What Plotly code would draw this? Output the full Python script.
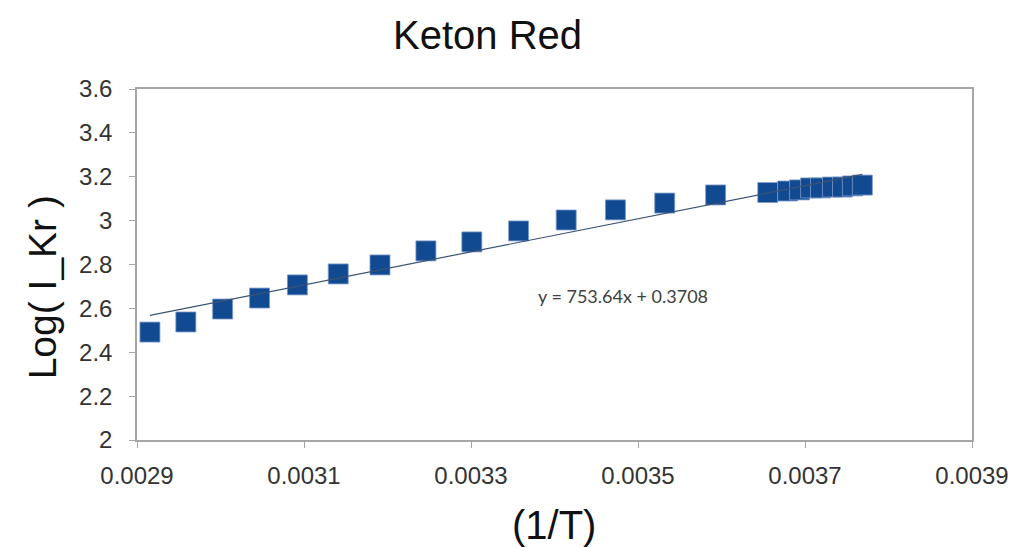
import plotly.graph_objects as go

# Data
inv_T = [0.0029155, 0.0029585, 0.0030026, 0.0030468, 0.0030921, 0.0031410,
         0.0031910, 0.0032460, 0.0033010, 0.0033570, 0.0034140, 0.0034730,
         0.0035320, 0.0035930,
         0.0036554, 0.0036792, 0.0036935, 0.0037067, 0.0037186, 0.0037329,
         0.0037449, 0.0037568, 0.0037687]
log_IKr = [2.492, 2.538, 2.597, 2.647, 2.707, 2.757,
           2.798, 2.862, 2.903, 2.953, 3.003, 3.049,
           3.080, 3.117,
           3.128, 3.135, 3.140, 3.149, 3.149, 3.153,
           3.153, 3.158, 3.162]

# Linear trendline coefficients shown on the chart
trend_slope = 753.64
trend_intercept = 0.3708
trend_x = [min(inv_T), max(inv_T)]
trend_y = [trend_slope * v + trend_intercept for v in trend_x]

x_tickvals = [0.0029, 0.0031, 0.0033, 0.0035, 0.0037, 0.0039]
x_ticktext = ["0.0029", "0.0031", "0.0033", "0.0035", "0.0037", "0.0039"]
y_tickvals = [2, 2.2, 2.4, 2.6, 2.8, 3, 3.2, 3.4, 3.6]
y_ticktext = ["2", "2.2", "2.4", "2.6", "2.8", "3", "3.2", "3.4", "3.6"]

title_text = "Keton Red"
x_title = "(1/T)"
y_title = "Log( I_Kr )"
equation_text = "y = 753.64x + 0.3708"

FONT = "Liberation Sans, Arial, sans-serif"
AXIS_GRAY = "#A6A6A6"

fig = go.Figure()

fig.add_trace(go.Scatter(
    x=inv_T, y=log_IKr, mode="markers",
    marker=dict(symbol="square", size=20, color="#124A92",
                line=dict(color="#7D9CCB", width=0.8)),
    showlegend=False, hoverinfo="x+y",
))

fig.add_trace(go.Scatter(
    x=trend_x, y=trend_y, mode="lines",
    line=dict(color="#3A5373", width=1.2),
    showlegend=False, hoverinfo="skip",
))

fig.update_layout(
    width=1021, height=547,
    margin=dict(l=137, r=46, t=89, b=107),
    paper_bgcolor="white", plot_bgcolor="white",
    font=dict(family=FONT, color="#262626"),
    annotations=[
        dict(text=title_text, x=(489 - 137) / 838, y=1 + (89 - 35) / 351, xref="paper", yref="paper",
             showarrow=False, font=dict(size=40, color="#111111", family=FONT),
             xanchor="center", yanchor="middle"),
        dict(text=x_title, x=(555 - 137) / 838, y=-(525 - 440) / 351, xref="paper", yref="paper",
             showarrow=False, font=dict(size=40, color="#111111", family=FONT),
             xanchor="center", yanchor="middle"),
        dict(text=y_title, x=-(137 - 42) / 838, y=(440 - 287) / 351, xref="paper", yref="paper",
             showarrow=False, textangle=-90, font=dict(size=39, color="#111111", family=FONT),
             xanchor="center", yanchor="middle"),
        dict(text=equation_text, x=0.0034823, y=2.6565, xref="x", yref="y",
             showarrow=False, font=dict(size=18, color="#404040", family="Lato, Open Sans, sans-serif"),
             xanchor="center", yanchor="middle"),
    ],
)

fig.update_xaxes(
    range=[0.0029, 0.0039], tickvals=x_tickvals, ticktext=x_ticktext,
    showgrid=False, zeroline=False,
    showline=True, linecolor=AXIS_GRAY, linewidth=1.5, mirror=True,
    ticks="outside", ticklen=6, tickcolor=AXIS_GRAY, tickwidth=1,
    tickfont=dict(size=24, color="#333333", family=FONT),
    ticklabelstandoff=7,
)
fig.update_yaxes(
    range=[2, 3.6], tickvals=y_tickvals, ticktext=y_ticktext,
    showgrid=False, zeroline=False,
    showline=True, linecolor=AXIS_GRAY, linewidth=1.5, mirror=True,
    ticks="outside", ticklen=6, tickcolor=AXIS_GRAY, tickwidth=1,
    tickfont=dict(size=24, color="#333333", family=FONT),
    ticklabelstandoff=12,
)

fig.write_html("out.html")
